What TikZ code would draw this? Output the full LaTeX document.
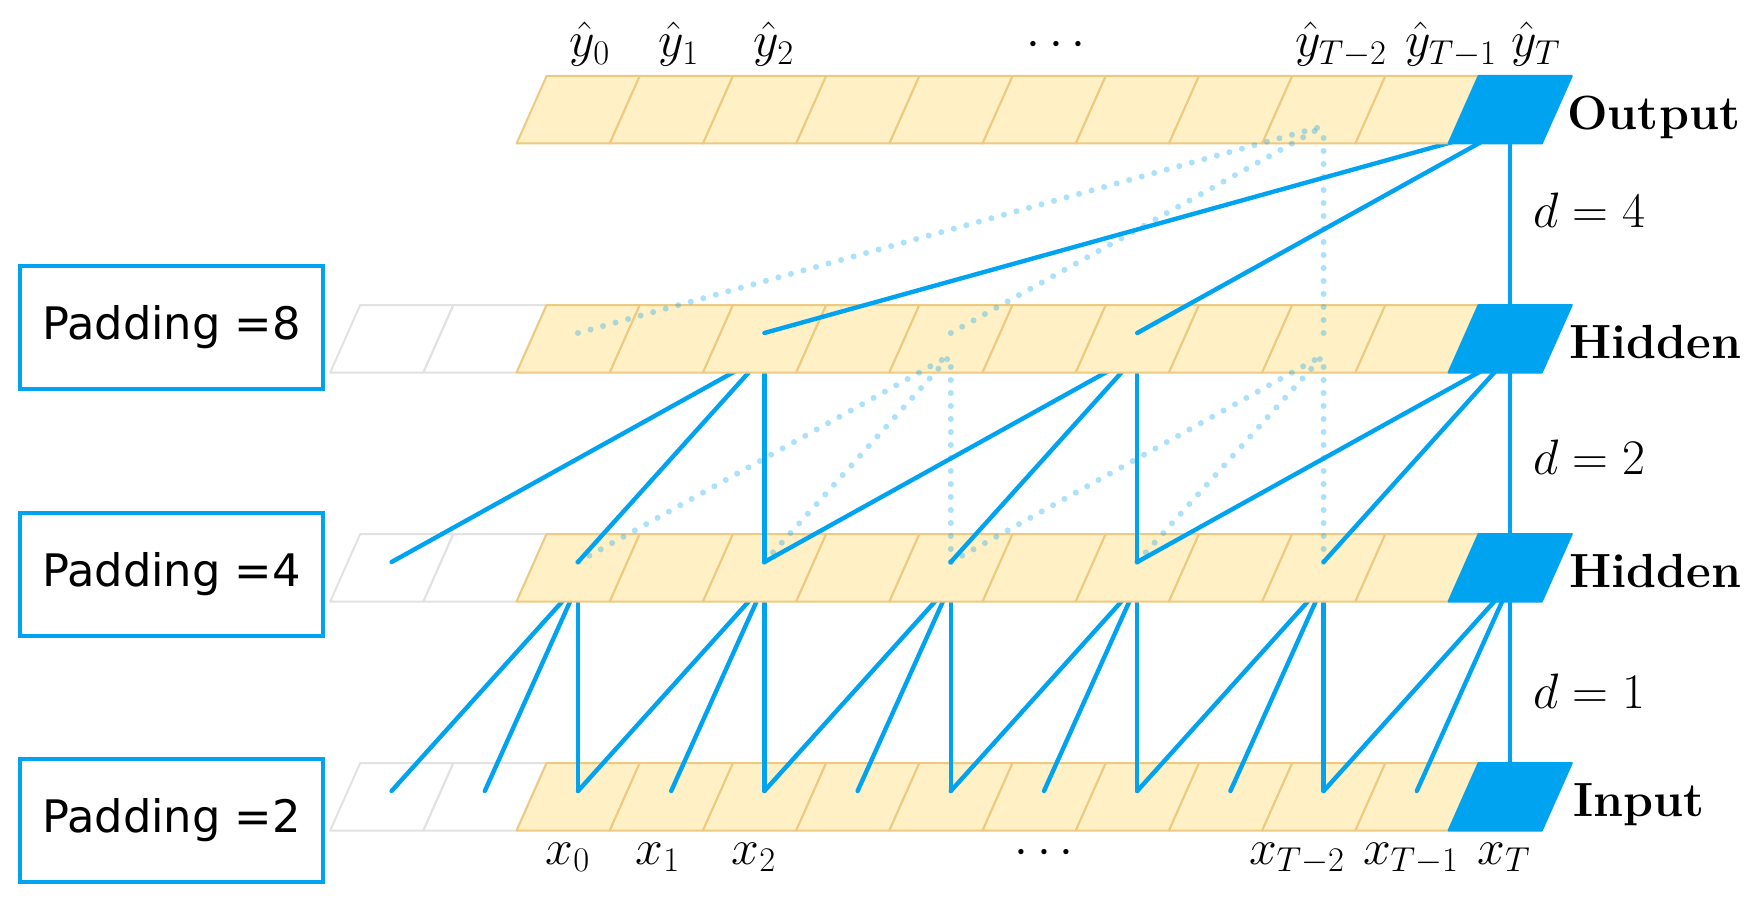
\documentclass[tikz,border=0pt]{standalone}
\usepackage{fontspec}
\newfontfamily\padfont{DejaVu Sans}
\DeclareMathSizes{24}{24}{19}{15}
\definecolor{tblue}{RGB}{0,163,240}
\definecolor{cellfill}{RGB}{255,240,197}
\definecolor{celledge}{RGB}{238,201,128}
\definecolor{padedge}{RGB}{226,226,226}
\newcommand\cellrow[2]{%
  \foreach \i in {#2,...,9}{%
    \pgfmathsetmacro\xl{516.6+93.2*(\i)}%
    \ifnum\i<0
      \path[padcell] (\xl,#1+67.5) -- ++(93.2,0) -- ++(30,-67.5) -- ++(-93.2,0) -- cycle;
    \else
      \path[cellbox] (\xl,#1+67.5) -- ++(93.2,0) -- ++(30,-67.5) -- ++(-93.2,0) -- cycle;
    \fi
  }%
  \path[bluecell] (1448.6,#1+67.5) -- ++(93.2,0) -- ++(30,-67.5) -- ++(-93.2,0) -- cycle;
}
\begin{document}
\begin{tikzpicture}[x=0.5pt,y=-0.5pt,
  cellbox/.style={fill=cellfill,draw=celledge,line width=1pt,line join=round},
  padcell/.style={fill=white,draw=padedge,line width=1pt,line join=round},
  bluecell/.style={fill=tblue,draw=tblue,line width=1pt,line join=round},
  link/.style={draw=tblue,line width=2.2pt,line cap=round},
  ghost/.style={draw=tblue,draw opacity=0.33,line width=3pt,line cap=round,dash pattern=on 0pt off 6.5pt},
  padbox/.style={draw=tblue,line width=1.6pt,minimum width=151.5pt,minimum height=61.5pt,inner sep=0pt,font=\padfont\fontsize{22.4}{26}\selectfont},
  lay/.style={anchor=base west,inner sep=0pt,font=\fontsize{24}{28}\selectfont\bfseries},
  mlab/.style={inner sep=0pt,font=\fontsize{24}{28}\selectfont},
  dlab/.style={anchor=west,inner sep=0pt,font=\fontsize{24}{28}\selectfont}
]
\useasboundingbox (0,0) rectangle (1761,904);

% anchor points: s = lower (source) end, t = upper (target) end
\foreach \r/\t in {o/76,a/305,b/534,c/763}{
  \foreach \i in {-2,...,10}{
    \coordinate (s-\r-\i) at ({578+93.2*(\i)},\t+28);
    \coordinate (t-\r-\i) at ({578+93.2*(\i)},\t+50);
  }
}

% input row and its links (d = 1)
\cellrow{763}{-2}
\foreach \j in {0,2,...,10}{
  \pgfmathtruncatemacro\ja{\j-2}
  \pgfmathtruncatemacro\jb{\j-1}
  \draw[link] (s-c-\ja) -- (t-b-\j);
  \draw[link] (s-c-\jb) -- (t-b-\j);
  \draw[link] (s-c-\j) -- (t-b-\j);
}

% hidden row 2 and its links (d = 2)
\cellrow{534}{-2}
\foreach \j in {2,6,10}{
  \pgfmathtruncatemacro\ja{\j-4}
  \pgfmathtruncatemacro\jb{\j-2}
  \draw[link] (s-b-\ja) -- (t-a-\j);
  \draw[link] (s-b-\jb) -- (t-a-\j);
  \draw[link] (s-b-\j) -- (t-a-\j);
}

% hidden row 1 and its links (d = 4)
\cellrow{305}{-2}
\draw[link] (s-a-2) -- (t-o-10);
\draw[link] (s-a-6) -- (t-o-10);
\draw[link] (s-a-10) -- (t-o-10);

% output row
\cellrow{76}{0}

% faint dotted links
\draw[ghost] (s-a-0) -- (t-o-8);
\draw[ghost] (s-a-4) -- (t-o-8);
\draw[ghost] (s-a-8) -- (t-o-8);
\draw[ghost] (s-b-0) -- (t-a-4);
\draw[ghost] (s-b-2) -- (t-a-4);
\draw[ghost] (s-b-4) -- (t-a-4);
\draw[ghost] (s-b-4) -- (t-a-8);
\draw[ghost] (s-b-6) -- (t-a-8);
\draw[ghost] (s-b-8) -- (t-a-8);

% output labels
\node[mlab,anchor=base] (yh0) at (590,57) {$\hat{y}_0$};
\node[mlab,anchor=base] (yh1) at (679,57) {$\hat{y}_1$};
\node[mlab,anchor=base] (yh2) at (774,57) {$\hat{y}_2$};
\node[mlab,anchor=base] (yhd) at (1056,57) {$\cdots$};
\node[mlab,anchor=base] (yhT2) at (1341,57) {$\hat{y}_{T-2}$};
\node[mlab,anchor=base] (yhT1) at (1451,57) {$\hat{y}_{T-1}$};
\node[mlab,anchor=base] (yhT) at (1536,57) {$\hat{y}_T$};

% input labels
\node[mlab,anchor=base] (x0) at (568,864) {$x_0$};
\node[mlab,anchor=base] (x1) at (658,864) {$x_1$};
\node[mlab,anchor=base] (x2) at (754,864) {$x_2$};
\node[mlab,anchor=base] (xd) at (1044,864) {$\cdots$};
\node[mlab,anchor=base] (xT2) at (1297,864) {$x_{T-2}$};
\node[mlab,anchor=base] (xT1) at (1411,864) {$x_{T-1}$};
\node[mlab,anchor=base] (xT) at (1504,864) {$x_T$};

% layer names
\node[lay] (lout) at (1567,129) {Output};
\node[lay] (lh1) at (1569,358) {Hidden};
\node[lay] (lh2) at (1569,587) {Hidden};
\node[lay] (lin) at (1573,816) {Input};

% dilation labels
\node[dlab] (d4) at (1533,210) {$d=4$};
\node[dlab] (d2) at (1533,457) {$d=2$};
\node[dlab] (d1) at (1533,691) {$d=1$};

% padding boxes
\node[padbox] (p8) at (171.5,327.5) {Padding =8};
\node[padbox] (p4) at (171.5,574.5) {Padding =4};
\node[padbox] (p2) at (171.5,820.5) {Padding =2};
\end{tikzpicture}
\end{document}
